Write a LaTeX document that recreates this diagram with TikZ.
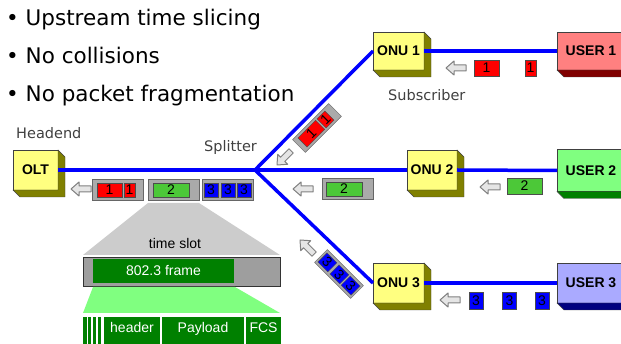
\documentclass[tikz,border=0pt]{standalone}
\usepackage{fontspec}
\setmainfont{DejaVu Sans}
\newfontfamily\arialfont{Liberation Sans}

\definecolor{onuyellow}{RGB}{255,255,128}
\definecolor{onuolive}{RGB}{128,128,0}
\definecolor{userred}{RGB}{255,128,128}
\definecolor{userreddark}{RGB}{128,0,0}
\definecolor{usergreen}{RGB}{128,255,128}
\definecolor{usergreendark}{RGB}{0,128,0}
\definecolor{userblue}{RGB}{170,170,255}
\definecolor{userbluedark}{RGB}{0,0,128}
\definecolor{pktgreen}{RGB}{76,200,56}
\definecolor{framegray}{RGB}{170,170,170}
\definecolor{darkgreen}{RGB}{0,128,0}
\definecolor{lightgreen}{RGB}{128,255,128}

\tikzset{
  unit/.style={draw=black!75, inner sep=0pt, outer sep=0pt, font=\arialfont\bfseries\fontsize{14}{14}\selectfont},
  link/.style={blue, line width=3.5pt},
  slotframe/.style={draw=black!60, fill=framegray, minimum width=51pt, minimum height=21pt, inner sep=0pt, outer sep=0pt},
  pkt/.style={draw=black!70, minimum height=14pt, inner sep=0pt, outer sep=0pt, font=\arialfont\fontsize{14}{14}\selectfont},
  field/.style={fill=darkgreen, text=white, minimum height=28pt, inner sep=0pt, text height=10pt, text depth=6pt, font=\arialfont\fontsize{14}{14}\selectfont},
  tag/.style={text=black!75, inner sep=0pt, anchor=base west, font=\fontsize{14.5}{14.5}\selectfont},
  bullet/.style={inner sep=0pt, anchor=base west, font=\fontsize{21.5}{21.5}\selectfont},
  garrow/.pic={\draw[draw=black!50, fill=black!10, line width=1pt, line join=round] (0,0) -- (8,-7) -- (8,-3) -- (20,-3) -- (20,3) -- (8,3) -- (8,7) -- cycle;}
}

% side and bottom faces of a box
\newcommand\extrude[2]{%
  \draw[draw=black!75, fill=#2] (#1.north east) -- ([shift={(7,7)}]#1.north east) -- ([shift={(7,7)}]#1.south east)
    -- ([shift={(7,7)}]#1.south west) -- (#1.south west) -- (#1.south east) -- cycle;}

\begin{document}
\begin{tikzpicture}[x=1pt,y=-1pt]
\clip (0,0) rectangle (621,344);

% bullets
\node[bullet] (b1) at (6,26) {\textbullet\ Upstream time slicing};
\node[bullet] (b2) at (6,64) {\textbullet\ No collisions};
\node[bullet] (b3) at (6,102) {\textbullet\ No packet fragmentation};

% labels
\node[tag] (headend) at (16,139) {Headend};
\node[tag] (splitter) at (204,152) {Splitter};
\node[tag] (subscriber) at (388,101) {Subscriber};

% boxes
\node[unit, fill=onuyellow, minimum width=45pt, minimum height=40pt] (olt) at (35.5,170) {OLT};
\extrude{olt}{onuolive}
\node[unit, fill=onuyellow, minimum width=51pt, minimum height=38pt] (onu1) at (398.5,51) {ONU 1};
\extrude{onu1}{onuolive}
\node[unit, fill=onuyellow, minimum width=50pt, minimum height=40pt] (onu2) at (432,170) {ONU 2};
\extrude{onu2}{onuolive}
\node[unit, fill=onuyellow, minimum width=51pt, minimum height=40pt] (onu3) at (398.5,283) {ONU 3};
\extrude{onu3}{onuolive}
\node[unit, fill=userred, minimum width=68pt, minimum height=38pt] (user1) at (591,51) {USER 1};
\extrude{user1}{userreddark}
\node[unit, fill=usergreen, minimum width=68pt, minimum height=42pt] (user2) at (591,170.5) {USER 2};
\extrude{user2}{usergreendark}
\node[unit, fill=userblue, minimum width=68pt, minimum height=40pt] (user3) at (591,283) {USER 3};
\extrude{user3}{userbluedark}

% fibre
\coordinate (split) at (255,170);
\draw[link] (split) -- (split -| olt.east);
\draw[link] (split) -- (onu1.west);
\draw[link] (split) -- (onu2.west);
\draw[link] (split) -- (onu3.west);
\draw[link] (onu1.east) -- (user1.west);
\draw[link] (onu2.east) -- (user2.west);
\draw[link] (onu3.east) -- (user3.west);

% packets towards the OLT
\pic at (71,189) {garrow};
\node[slotframe] (g1) at (117.5,190) {};
\node[pkt, fill=red, minimum width=25pt] (g1a) at (109.5,190) {1};
\node[pkt, fill=red, minimum width=11pt] (g1b) at (129.5,190) {1};
\node[slotframe] (g2) at (173.5,190) {};
\node[pkt, fill=pktgreen, minimum width=36pt] (g2a) at (171,190) {2};
\node[slotframe] (g3) at (227.5,190) {};
\node[pkt, fill=blue, minimum width=14pt] (g3a) at (211,190) {3};
\node[pkt, fill=blue, minimum width=14pt] (g3b) at (228,190) {3};
\node[pkt, fill=blue, minimum width=14pt] (g3c) at (244,190) {3};

% packets near the splitter
\pic[rotate=45] at (277,165) {garrow};
\begin{scope}[shift={(317,128)}, rotate=45, transform shape]
\node[slotframe, minimum height=18pt] (r0) at (0,0) {};
\node[pkt, fill=red, minimum width=25pt, minimum height=13pt] (r1) at (-8,0) {1};
\node[pkt, fill=red, minimum width=11pt, minimum height=13pt] (r2) at (12,0) {1};
\end{scope}
\pic at (293,189) {garrow};
\node[slotframe] (s0) at (347.5,189) {};
\node[pkt, fill=pktgreen, minimum width=36pt] (s1) at (344,189) {2};
\pic[rotate=-45] at (300,240) {garrow};
\begin{scope}[shift={(339,274)}, rotate=-45, transform shape]
\node[slotframe, minimum height=18pt] (u0) at (0,0) {};
\node[pkt, fill=blue, minimum width=14pt, minimum height=13pt] (u1) at (-16.5,0) {3};
\node[pkt, fill=blue, minimum width=14pt, minimum height=13pt] (u2) at (0.5,0) {3};
\node[pkt, fill=blue, minimum width=14pt, minimum height=13pt] (u3) at (16.5,0) {3};
\end{scope}

% packets from the users
\pic at (446,68) {garrow};
\node[pkt, fill=red, minimum width=25pt, minimum height=16pt] (p1a) at (486.5,68) {1};
\node[pkt, fill=red, minimum width=11pt, minimum height=16pt] (p1b) at (530.5,68) {1};
\pic at (480,187) {garrow};
\node[pkt, fill=pktgreen, minimum width=35pt, minimum height=16pt] (p2a) at (524.5,186) {2};
\pic at (440,300) {garrow};
\node[pkt, fill=blue, minimum width=14pt, minimum height=17pt] (p3a) at (476,300.5) {3};
\node[pkt, fill=blue, minimum width=14pt, minimum height=17pt] (p3b) at (509.5,300.5) {3};
\node[pkt, fill=blue, minimum width=14pt, minimum height=17pt] (p3c) at (542,300.5) {3};

% time slot detail
\fill[black!20] (148,203) -- (199,203) -- (280,255) -- (83,255) -- cycle;
\node[font=\arialfont\fontsize{14}{14}\selectfont, inner sep=0pt] (tslot) at (175,243) {time slot};
\node[draw=black!80, fill=black!38, minimum width=197pt, minimum height=29pt, inner sep=0pt] (slot) at (181.5,271.5) {};
\node[fill=darkgreen, text=white, minimum width=141pt, minimum height=24pt, inner sep=0pt, font=\arialfont\fontsize{14}{14}\selectfont] (frm) at (163.5,271) {802.3 frame};
\fill[lightgreen] (93,287) -- (235,287) -- (280,313) -- (83,313) -- cycle;
\foreach \x in {83,87.5,92.5,97.5}
  \fill[darkgreen] (\x,317) rectangle ++(3.5,30);
\node[field, minimum width=56pt] (hdr) at (132,331) {header};
\node[field, minimum width=82pt] (pay) at (203,331) {Payload};
\node[field, minimum width=35pt] (fcs) at (263.5,331) {FCS};
\end{tikzpicture}
\end{document}
